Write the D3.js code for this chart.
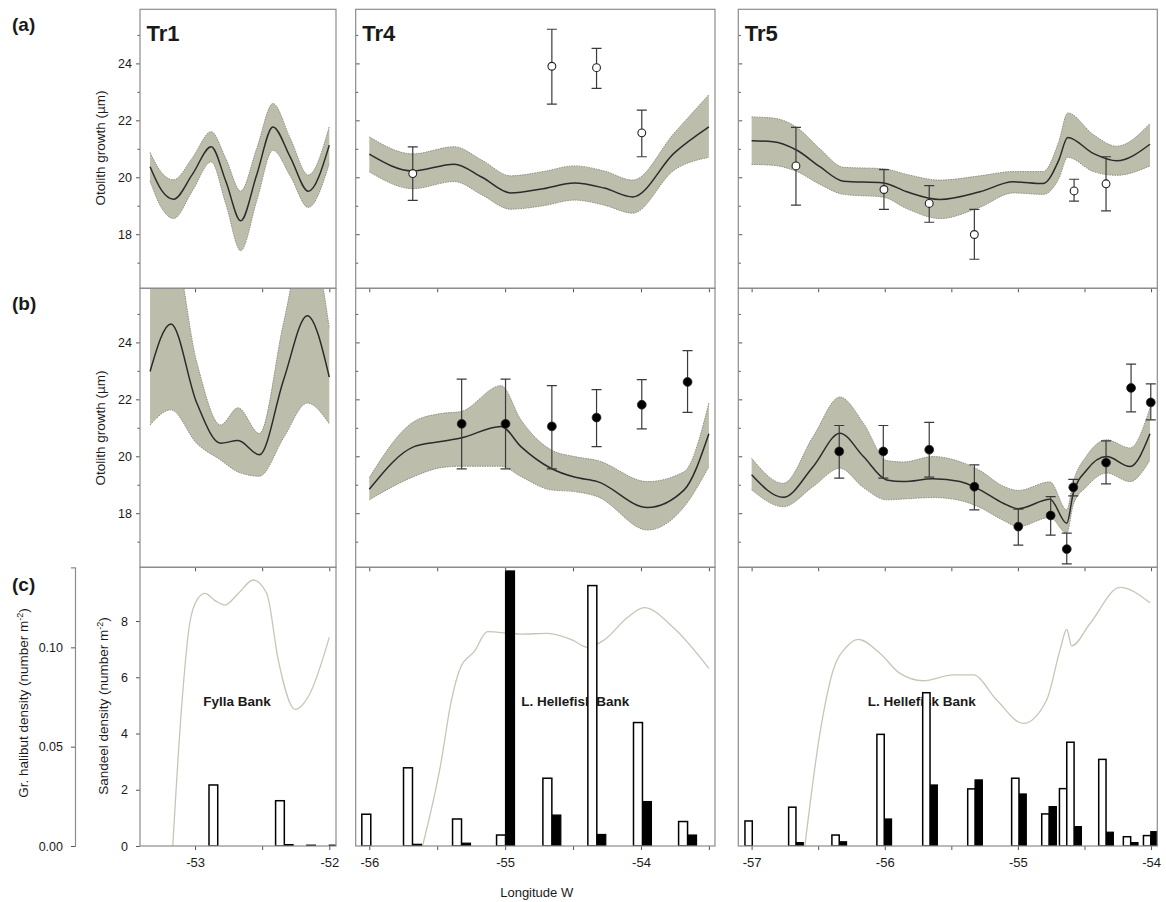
<!DOCTYPE html>
<html><head><meta charset="utf-8">
<script src="https://cdn.jsdelivr.net/npm/d3@7"></script>
<style>
body{margin:0;background:#fff;}
svg{display:block;font-family:Arial,"Liberation Sans",sans-serif;}
</style></head><body>
<svg id="chart" width="1166" height="902"></svg>
<script>
// ---------- DATA ----------
const transects = ["Tr1", "Tr4", "Tr5"];
const lonDomain = { Tr1: [-53.41, -51.95], Tr4: [-56.1, -53.455], Tr5: [-57.1, -53.953] };
const growthDomain = [16.1, 25.9];
const sandeelDomain = [0, 9.91];
const halibutDomain = [0, 0.1403];
const growthMajorTicks = [18, 20, 22, 24];
const growthMinorTicks = [17, 19, 21, 23, 25];
const sandeelTicks = [0, 2, 4, 6, 8];
const halibutTicks = [0, 0.05, 0.10];
const lonTicks = { Tr1: [-53, -52.5, -52], Tr4: [-56, -55.5, -55, -54.5, -54, -53.5], Tr5: [-57, -56.5, -56, -55.5, -55, -54.5, -54] };
const bankNames = { Tr1: "Fylla Bank", Tr4: "L. Hellefisk Bank", Tr5: "L. Hellefisk Bank" };

// (a) smoother fits
const tr1aLon = [-53.335, -53.25, -53.16, -53.02, -52.88, -52.77, -52.66, -52.54, -52.42, -52.29, -52.156, -52.0];
const tr1aFit = [20.37, 19.55, 19.23, 20.1, 21.07, 19.85, 18.47, 20.1, 21.77, 20.7, 19.51, 21.13];
const tr1aLo  = [19.87, 18.93, 18.55, 19.52, 20.54, 19.05, 17.42, 19.18, 20.95, 20.04, 18.94, 20.48];
const tr1aHi  = [20.87, 20.17, 19.91, 20.68, 21.6, 20.65, 19.52, 21.02, 22.59, 21.36, 20.08, 21.78];

const tr4aLon = [-56.0, -55.68, -55.375, -55.17, -54.96, -54.72, -54.49, -54.27, -54.06, -53.756, -53.5];
const tr4aFit = [20.81, 20.22, 20.46, 20.0, 19.45, 19.6, 19.8, 19.62, 19.31, 20.85, 21.77];
const tr4aLo  = [20.19, 19.6, 19.85, 19.38, 18.88, 19.0, 19.2, 19.02, 18.74, 20.25, 20.7];
const tr4aHi  = [21.42, 20.82, 21.07, 20.6, 20.05, 20.2, 20.4, 20.22, 19.9, 21.55, 22.9];

const tr5aLon = [-57.0, -56.84, -56.66, -56.487, -56.31, -56.01, -55.835, -55.585, -55.285, -55.035, -54.81, -54.693, -54.626, -54.434, -54.258, -54.008];
const tr5aFit = [21.28, 21.25, 20.95, 20.37, 19.86, 19.8, 19.49, 19.22, 19.49, 19.84, 19.78, 20.6, 21.4, 20.84, 20.58, 21.16];
const tr5aLo  = [20.45, 20.42, 20.2, 19.75, 19.4, 19.3, 18.9, 18.55, 18.95, 19.45, 19.4, 19.95, 20.7, 20.2, 20.07, 20.4];
const tr5aHi  = [22.12, 22.08, 21.75, 21.0, 20.35, 20.3, 20.1, 19.9, 20.05, 20.2, 20.2, 21.25, 22.26, 21.5, 21.09, 21.89];

// (a) observed means (open circles)
const tr4aObsLon = [-55.68, -54.656, -54.327, -53.994];
const tr4aObs    = [20.13, 23.9, 23.85, 21.56];
const tr4aObsLo  = [19.19, 22.57, 23.12, 20.72];
const tr4aObsHi  = [21.07, 25.2, 24.53, 22.36];

const tr5aObsLon = [-56.667, -56.006, -55.666, -55.327, -54.578, -54.338];
const tr5aObs    = [20.4, 19.57, 19.08, 17.99, 19.52, 19.77];
const tr5aObsLo  = [19.02, 18.87, 18.42, 17.12, 19.16, 18.82];
const tr5aObsHi  = [21.75, 20.27, 19.71, 18.87, 19.93, 20.72];

// (b) smoother fits
const tr1bLon = [-53.335, -53.18, -52.987, -52.81, -52.68, -52.52, -52.34, -52.164, -52.0];
const tr1bFit = [22.98, 24.65, 21.87, 20.46, 20.55, 20.05, 22.69, 24.94, 22.78];
const tr1bLo  = [21.1, 21.63, 20.45, 19.87, 19.45, 19.3, 20.65, 21.87, 21.14];
const tr1bHi  = [26.4, 27.7, 23.3, 21.1, 21.7, 20.8, 24.7, 28.0, 24.5];

const tr4bLon = [-56.0, -55.67, -55.473, -55.326, -55.03, -54.884, -54.664, -54.49, -54.32, -53.952, -53.682, -53.5];
const tr4bFit = [18.84, 20.34, 20.52, 20.64, 21.05, 20.34, 19.58, 19.27, 19.11, 18.2, 18.82, 20.79];
const tr4bLo  = [18.47, 19.29, 19.6, 19.65, 19.65, 19.29, 18.82, 18.76, 18.58, 17.41, 18.23, 19.64];
const tr4bHi  = [19.25, 21.22, 21.5, 21.57, 22.48, 21.28, 20.23, 19.99, 19.85, 19.11, 19.46, 21.87];

const tr5bLon = [-57.0, -56.762, -56.537, -56.337, -56.16, -55.986, -55.86, -55.636, -55.435, -55.285, -55.11, -54.997, -54.759, -54.633, -54.584, -54.483, -54.333, -54.158, -54.008];
const tr5bFit = [19.35, 18.56, 19.64, 20.81, 19.99, 19.17, 19.11, 19.21, 19.11, 18.82, 18.35, 18.16, 18.49, 17.65, 18.7, 19.52, 19.99, 19.64, 20.79];
const tr5bLo  = [18.82, 18.23, 18.94, 19.58, 18.9, 18.47, 18.5, 18.55, 18.45, 18.2, 17.75, 17.53, 17.85, 17.3, 18.3, 18.94, 19.41, 19.11, 19.87];
const tr5bHi  = [19.93, 19.05, 20.7, 22.08, 21.16, 19.85, 19.8, 19.99, 19.81, 19.5, 18.95, 18.8, 19.1, 18.12, 19.1, 20.02, 20.58, 20.29, 21.69];

// (b) observed means (filled circles)
const tr4bObsLon = [-55.32, -54.997, -54.656, -54.327, -53.994, -53.657];
const tr4bObs    = [21.14, 21.14, 21.05, 21.36, 21.81, 22.61];
const tr4bObsLo  = [19.56, 19.56, 19.56, 20.34, 20.96, 21.54];
const tr4bObsHi  = [22.71, 22.71, 22.48, 22.34, 22.69, 23.71];

const tr5bObsLon = [-56.342, -56.011, -55.666, -55.327, -54.997, -54.754, -54.633, -54.584, -54.338, -54.15, -54.002];
const tr5bObs    = [20.17, 20.17, 20.23, 18.93, 17.53, 17.92, 16.74, 18.91, 19.78, 22.4, 21.89];
const tr5bObsLo  = [19.23, 19.23, 19.27, 18.12, 16.88, 17.23, 16.22, 18.61, 19.03, 21.56, 21.28];
const tr5bObsHi  = [21.08, 21.08, 21.19, 19.7, 18.14, 18.58, 17.3, 19.19, 20.54, 23.24, 22.54];

// (c) sandeel density at stations (open = first bar, filled = second bar)
const tr1StationLon = [-52.831, -52.335, -52.168, -52.0];
const tr1SandOpen   = [2.17, 1.61, 0, 0];
const tr1SandFilled = [0, 0.05, 0.03, 0.03];

const tr4StationLon = [-55.989, -55.682, -55.321, -54.997, -54.656, -54.325, -53.989, -53.657];
const tr4SandOpen   = [1.13, 2.78, 0.96, 0.39, 2.41, 9.26, 4.39, 0.87];
const tr4SandFilled = [0, 0.06, 0.1, 9.78, 1.1, 0.41, 1.58, 0.39];

const tr5StationLon = [-56.995, -56.667, -56.342, -56.004, -55.66, -55.322, -54.992, -54.766, -54.633, -54.578, -54.338, -54.153, -54.002];
const tr5SandOpen   = [0.89, 1.38, 0.39, 3.97, 5.45, 2.03, 2.41, 1.14, 2.04, 3.69, 3.08, 0.33, 0.37];
const tr5SandFilled = [0, 0.12, 0.15, 0.96, 2.17, 2.35, 1.85, 1.4, 0, 0.69, 0.49, 0.12, 0.51];

// (c) Greenland halibut density curves
const tr1HalLon = [-53.166, -53.1, -53.04, -52.98, -52.926, -52.85, -52.777, -52.68, -52.566, -52.466, -52.38, -52.255, -52.144, -52.0];
const tr1Hal    = [0, 0.07, 0.112, 0.1245, 0.1272, 0.1235, 0.1213, 0.127, 0.1339, 0.1272, 0.0936, 0.0688, 0.0768, 0.105];

const tr4HalLon = [-55.608, -55.473, -55.4, -55.326, -55.228, -55.13, -54.884, -54.688, -54.5, -54.393, -54.271, -54.1, -53.977, -53.756, -53.5];
const tr4Hal    = [0, 0.0416, 0.0718, 0.0902, 0.0978, 0.1079, 0.1067, 0.107, 0.1035, 0.1, 0.1037, 0.115, 0.12, 0.1096, 0.0894];

const tr5HalLon = [-56.6, -56.487, -56.387, -56.286, -56.199, -56.036, -55.886, -55.711, -55.485, -55.335, -55.159, -54.96, -54.784, -54.684, -54.633, -54.596, -54.458, -54.233, -54.008];
const tr5Hal    = [0, 0.0567, 0.0886, 0.1003, 0.104, 0.097, 0.0869, 0.0832, 0.0861, 0.0861, 0.0735, 0.0617, 0.0735, 0.0986, 0.109, 0.1007, 0.112, 0.1302, 0.1224];

// ---------- LAYOUT / STYLE ----------
const rows = { a: [9.3, 288.3], b: [288.3, 567.3], c: [567.3, 846] };
const cols = { Tr1: [140, 336], Tr4: [355.7, 715], Tr5: [738.3, 1157.3] };
const barWidthDeg = { Tr1: 0.065, Tr4: 0.066, Tr5: 0.055 };
const BAND = "#bdbdab";
const BORDER = "#8c8c8c";
const TEXT = "#1a1a1a";

const svg = d3.select("#chart");
const defs = svg.append("defs");

const xs = {};
transects.forEach(t => xs[t] = d3.scaleLinear().domain(lonDomain[t]).range(cols[t]));
const yG = {
  a: d3.scaleLinear().domain(growthDomain).range([rows.a[1], rows.a[0]]),
  b: d3.scaleLinear().domain(growthDomain).range([rows.b[1], rows.b[0]])
};
const ySand = d3.scaleLinear().domain(sandeelDomain).range([rows.c[1], rows.c[0]]);
const yHal = d3.scaleLinear().domain(halibutDomain).range([rows.c[1], rows.c[0]]);

function clipGroup(t, r) {
  const id = "clip-" + t + r;
  defs.append("clipPath").attr("id", id).append("rect")
    .attr("x", cols[t][0]).attr("y", rows[r][0])
    .attr("width", cols[t][1] - cols[t][0]).attr("height", rows[r][1] - rows[r][0]);
  return svg.append("g").attr("clip-path", `url(#${id})`);
}

function drawFit(g, x, y, lon, fit, lo, hi) {
  const pts = lon.map((d, i) => ({ lon: d, f: fit[i], l: lo[i], h: hi[i] }));
  g.append("path").datum(pts)
    .attr("d", d3.area().x(d => x(d.lon)).y0(d => y(d.l)).y1(d => y(d.h)).curve(d3.curveMonotoneX))
    .attr("fill", BAND);
  ["l", "h"].forEach(k => {
    g.append("path").datum(pts)
      .attr("d", d3.line().x(d => x(d.lon)).y(d => y(d[k])).curve(d3.curveMonotoneX))
      .attr("fill", "none").attr("stroke", "#8e8e84").attr("stroke-width", 1)
      .attr("stroke-dasharray", "1.5,1");
  });
  g.append("path").datum(pts)
    .attr("d", d3.line().x(d => x(d.lon)).y(d => y(d.f)).curve(d3.curveMonotoneX))
    .attr("fill", "none").attr("stroke", "#2b2b2b").attr("stroke-width", 1.5);
}

function drawObs(g, x, y, lon, mean, lo, hi, open) {
  const pts = lon.map((d, i) => ({ lon: d, m: mean[i], l: lo[i], h: hi[i] }));
  const eg = g.append("g").attr("stroke", "#3a3a3a").attr("stroke-width", 1.2);
  eg.selectAll("line.v").data(pts).join("line").attr("class", "v")
    .attr("x1", d => x(d.lon)).attr("x2", d => x(d.lon))
    .attr("y1", d => y(d.l)).attr("y2", d => y(d.h));
  ["l", "h"].forEach(k => {
    eg.selectAll("line.c" + k).data(pts).join("line").attr("class", "c" + k)
      .attr("x1", d => x(d.lon) - 5).attr("x2", d => x(d.lon) + 5)
      .attr("y1", d => y(d[k])).attr("y2", d => y(d[k]));
  });
  g.selectAll("circle").data(pts).join("circle")
    .attr("cx", d => x(d.lon)).attr("cy", d => y(d.m))
    .attr("r", open ? 3.9 : 4.4)
    .attr("fill", open ? "#fff" : "#000")
    .attr("stroke", "#222").attr("stroke-width", open ? 1.1 : 0.8);
}

function drawBars(g, x, y, lon, openV, filledV, wDeg) {
  const st = lon.map((d, i) => ({ lon: d, o: openV[i], f: filledV[i] }));
  g.selectAll("rect.filled").data(st.filter(d => d.f > 0)).join("rect").attr("class", "filled")
    .attr("x", d => x(d.lon)).attr("width", d => x(d.lon + wDeg) - x(d.lon))
    .attr("y", d => y(d.f)).attr("height", d => y(0) - y(d.f))
    .attr("fill", "#000").attr("stroke", "#000").attr("stroke-width", 1.2);
  g.selectAll("rect.open").data(st.filter(d => d.o > 0)).join("rect").attr("class", "open")
    .attr("x", d => x(d.lon - wDeg)).attr("width", d => x(d.lon) - x(d.lon - wDeg))
    .attr("y", d => y(d.o)).attr("height", d => y(0) - y(d.o))
    .attr("fill", "#fff").attr("stroke", "#000").attr("stroke-width", 1.5);
}

function drawHal(g, x, y, lon, val) {
  const pts = lon.map((d, i) => ({ lon: d, v: val[i] }));
  g.append("path").datum(pts)
    .attr("d", d3.line().x(d => x(d.lon)).y(d => y(d.v)).curve(d3.curveMonotoneX))
    .attr("fill", "none").attr("stroke", "#c6c6b6").attr("stroke-width", 1.3);
}

// ---------- ROW (a) ----------
const fitsA = { Tr1: [tr1aLon, tr1aFit, tr1aLo, tr1aHi], Tr4: [tr4aLon, tr4aFit, tr4aLo, tr4aHi], Tr5: [tr5aLon, tr5aFit, tr5aLo, tr5aHi] };
const fitsB = { Tr1: [tr1bLon, tr1bFit, tr1bLo, tr1bHi], Tr4: [tr4bLon, tr4bFit, tr4bLo, tr4bHi], Tr5: [tr5bLon, tr5bFit, tr5bLo, tr5bHi] };
const obsA = { Tr4: [tr4aObsLon, tr4aObs, tr4aObsLo, tr4aObsHi], Tr5: [tr5aObsLon, tr5aObs, tr5aObsLo, tr5aObsHi] };
const obsB = { Tr4: [tr4bObsLon, tr4bObs, tr4bObsLo, tr4bObsHi], Tr5: [tr5bObsLon, tr5bObs, tr5bObsLo, tr5bObsHi] };
const barsC = { Tr1: [tr1StationLon, tr1SandOpen, tr1SandFilled], Tr4: [tr4StationLon, tr4SandOpen, tr4SandFilled], Tr5: [tr5StationLon, tr5SandOpen, tr5SandFilled] };
const halC = { Tr1: [tr1HalLon, tr1Hal], Tr4: [tr4HalLon, tr4Hal], Tr5: [tr5HalLon, tr5Hal] };

["a", "b"].forEach(r => {
  transects.forEach(t => {
    const g = clipGroup(t, r);
    const f = (r === "a" ? fitsA : fitsB)[t];
    drawFit(g, xs[t], yG[r], ...f);
    const o = (r === "a" ? obsA : obsB)[t];
    if (o) drawObs(g, xs[t], yG[r], ...o, r === "a");
  });
});

transects.forEach(t => {
  const g = clipGroup(t, "c");
  drawHal(g, xs[t], yHal, ...halC[t]);
  g.append("text").attr("x", d3.mean(cols[t]) + (t === "Tr1" ? -1 : t === "Tr4" ? 40 : -26)).attr("y", 706)
    .attr("text-anchor", "middle").attr("font-weight", "bold").attr("font-size", 13.5).attr("fill", TEXT)
    .text(bankNames[t]);
  drawBars(g, xs[t], ySand, ...barsC[t], barWidthDeg[t]);
});

// ---------- AXES, BORDERS ----------
function strip(sel) { sel.select(".domain").remove(); sel.selectAll("line").attr("stroke", "#555"); sel.selectAll("text").attr("fill", TEXT).attr("font-family", null); }

["a", "b"].forEach(r => {
  transects.forEach(t => {
    const x0 = cols[t][0];
    if (t === "Tr1") {
      svg.append("g").attr("transform", `translate(${x0},0)`)
        .call(d3.axisLeft(yG[r]).tickValues(growthMajorTicks).tickSize(4).tickPadding(4))
        .call(strip).attr("font-size", 12.5);
      svg.append("g").attr("transform", `translate(${x0},0)`)
        .call(d3.axisLeft(yG[r]).tickValues(growthMinorTicks).tickSize(2.5).tickFormat(""))
        .call(strip);
    } else {
      svg.append("g").attr("transform", `translate(${x0},0)`)
        .call(d3.axisRight(yG[r]).tickValues(growthMajorTicks).tickSize(4).tickFormat(""))
        .call(strip);
      svg.append("g").attr("transform", `translate(${x0},0)`)
        .call(d3.axisRight(yG[r]).tickValues(growthMinorTicks).tickSize(2.5).tickFormat(""))
        .call(strip);
    }
  });
});

// x ticks at top of rows b and c (inward), bottom of row c (outward, labelled)
transects.forEach(t => {
  ["b", "c"].forEach(r => {
    svg.append("g").attr("transform", `translate(0,${rows[r][0]})`)
      .call(d3.axisBottom(xs[t]).tickValues(lonTicks[t]).tickSize(4).tickFormat(""))
      .call(strip);
  });
  svg.append("g").attr("transform", `translate(0,${rows.c[1]})`)
    .call(d3.axisBottom(xs[t]).tickValues(lonTicks[t]).tickSize(4).tickPadding(8)
      .tickFormat(d => Number.isInteger(d) ? String(d) : ""))
    .call(strip).attr("font-size", 13);
});

// sandeel axis (Tr1 panel left) and halibut axis
svg.append("g").attr("transform", `translate(${cols.Tr1[0]},0)`)
  .call(d3.axisLeft(ySand).tickValues(sandeelTicks).tickSize(4).tickPadding(8))
  .call(strip).attr("font-size", 12.5);
const halG = svg.append("g").attr("transform", "translate(75,0)")
  .call(d3.axisLeft(yHal).tickValues(halibutTicks).tickSize(4).tickPadding(8).tickFormat(d3.format(".2f")))
  .call(s => { s.selectAll("line").attr("stroke", "#555"); s.selectAll("text").attr("fill", TEXT); s.select(".domain").attr("stroke", BORDER).attr("stroke-width", 1.2); })
  .attr("font-size", 12.5);
halG.attr("font-family", null);

// borders
["a", "b", "c"].forEach(r => transects.forEach(t => {
  svg.append("rect").attr("x", cols[t][0]).attr("y", rows[r][0])
    .attr("width", cols[t][1] - cols[t][0]).attr("height", rows[r][1] - rows[r][0])
    .attr("fill", "none").attr("stroke", BORDER).attr("stroke-width", 1.2);
}));

// ---------- TEXT ----------
[["(a)", 31], ["(b)", 310], ["(c)", 591]].forEach(([s, y]) => {
  svg.append("text").attr("x", 12).attr("y", y).attr("font-size", 19).attr("font-weight", "bold").attr("fill", TEXT).text(s);
});
transects.forEach(t => {
  svg.append("text").attr("x", cols[t][0] + 6.5).attr("y", 40.5).attr("font-size", 22).attr("font-weight", "bold").attr("fill", TEXT).text(t);
});
[148, 428].forEach(cy => {
  svg.append("text").attr("transform", `translate(105,${cy}) rotate(-90)`).attr("text-anchor", "middle")
    .attr("font-size", 13.5).attr("fill", TEXT).text("Otolith growth (µm)");
});
function supLabel(x, y, main) {
  const tx = svg.append("text").attr("transform", `translate(${x},${y}) rotate(-90)`).attr("text-anchor", "middle")
    .attr("font-size", 13.5).attr("fill", TEXT);
  tx.append("tspan").text(main + " (number m");
  tx.append("tspan").attr("dy", -5).attr("font-size", 9).text("-2");
  tx.append("tspan").attr("dy", 5).text(")");
}
supLabel(28, 703, "Gr. halibut density");
supLabel(108, 706, "Sandeel density");
svg.append("text").attr("x", 536.7).attr("y", 897).attr("text-anchor", "middle").attr("font-size", 13).attr("fill", TEXT).text("Longitude W");
</script></body></html>
